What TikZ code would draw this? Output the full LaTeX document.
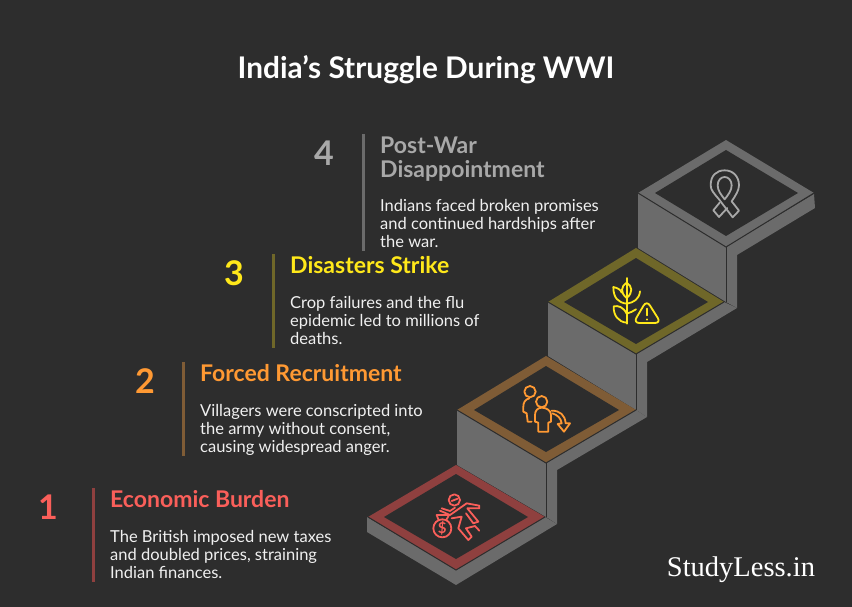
\documentclass[tikz,border=0pt]{standalone}
\usepackage{fontspec}
\setmainfont{Lato}
\newfontfamily\logofont{Liberation Serif}
\usetikzlibrary{positioning}
\definecolor{pagebg}{HTML}{2D2D2D}
\definecolor{stepgray}{HTML}{6B6B6B}
\definecolor{bodytext}{HTML}{F0F0F0}
\definecolor{redtext}{HTML}{FA5F5A}
\definecolor{redrim}{HTML}{8F403F}
\definecolor{orangetext}{HTML}{FF9933}
\definecolor{orangerim}{HTML}{7F5C36}
\definecolor{yellowtext}{HTML}{FFE81A}
\definecolor{yellowrim}{HTML}{6F6729}
\definecolor{graytext}{HTML}{A8A8A8}
\tikzset{
    numlabel/.style={inner sep=0pt, font=\fontsize{34}{34}\selectfont\bfseries},
    headlabel/.style={anchor=north west, inner sep=0pt, align=left, font=\fontsize{23}{24}\selectfont\bfseries},
    bodylabel/.style={anchor=north west, inner sep=0pt, align=left, text=bodytext, font=\fontsize{16.5}{18}\selectfont},
    iconat/.style={shift={#1}, x=0.3333pt, y=-0.3333pt, line width=1.8pt, line cap=round, line join=round}
}
\begin{document}
\begin{tikzpicture}[x=1pt, y=-1pt]
    \fill[pagebg] (0,0) rectangle (852,607);
    \useasboundingbox (0,0) rectangle (852,607);

    % title
    \node[text=white, inner sep=0pt, font=\fontsize{29.8}{32}\selectfont\bfseries] (maintitle) at (426,69.5) {India's Struggle During WWI};

    % stairs
    \fill[stepgray] (726,247) -- (814,194) -- (815,208) -- (737,255) -- (737,308) -- (726,302) -- cycle;
    \fill[stepgray] (636,354) -- (724,302) -- (737,308) -- (647,362) -- (647,417) -- (636,410) -- cycle;
    \fill[stepgray] (546,463) -- (636,410) -- (647,417) -- (557,470) -- (557,524) -- (546,517) -- cycle;
    \fill[stepgray] (367,517) -- (456,570) -- (545,517) -- (557,524) -- (456,585) -- (367,532) -- cycle;
    \fill[stepgray] (638,193) -- (726,247) -- (726,302) -- (638,248) -- cycle;
    \fill[stepgray] (548,302) -- (636,354) -- (636,410) -- (548,356) -- cycle;
    \fill[stepgray] (457,410) -- (546,463) -- (546,517) -- (457,465) -- cycle;
    \draw[pagebg, line width=1pt] (726,247) -- (726,302) (636,354) -- (636,410) (546,463) -- (546,517);

    \fill[stepgray] (638,193) -- (726,140) -- (814,193) -- (726,247) -- cycle;
    \fill[pagebg] (655,193) -- (726,150) -- (798,193) -- (726,236) -- cycle;
    \fill[yellowrim] (548,302) -- (636,248) -- (724,302) -- (636,354) -- cycle;
    \fill[pagebg] (564,302) -- (636,258) -- (708,302) -- (636,344) -- cycle;
    \fill[orangerim] (457,410) -- (546,356) -- (636,410) -- (546,463) -- cycle;
    \fill[pagebg] (474,410) -- (546,366) -- (619,410) -- (546,452) -- cycle;
    \fill[redrim] (368,517) -- (456,465) -- (545,517) -- (456,570) -- cycle;
    \fill[pagebg] (384,517) -- (456,474) -- (528,517) -- (456,559) -- cycle;
    \draw[pagebg, line width=1pt] (638,193) -- (726,247) -- (814,193);
    \draw[pagebg, line width=1pt] (548,302) -- (636,354) -- (724,302);
    \draw[pagebg, line width=1pt] (457,410) -- (546,463) -- (636,410);
    \draw[pagebg, line width=1pt] (368,517) -- (456,570) -- (545,517);

    % icons
    \begin{scope}[iconat={(425,485)}, draw=redtext]
        \draw (88,45) circle[radius=17];
        \draw (80,48) -- (98,41);
        \draw (45,77) -- (75,90) -- (125,55) -- (163,62) -- (163,70) -- (127,70) -- (160,110) -- (145,115) -- (123,85);
        \draw (50,70) -- (75,78) -- (90,68);
        \draw (80,100) -- (110,95) -- (100,130) -- (130,165) -- (140,155) -- (123,130) -- (150,123) -- (163,137);
        \draw (52,130) circle[radius=27];
        \draw (40,103) -- (35,90) -- (72,90) -- (65,103);
        \node[inner sep=0pt, text=redtext, font=\fontsize{15}{15}\selectfont\bfseries] (bagsign) at (52,130) {\$};
    \end{scope}
    \begin{scope}[iconat={(515,380)}, draw=orangetext]
        \draw (45,35) circle[radius=17];
        \draw (43,55) .. controls (30,58) and (25,68) .. (25,80) -- (25,95) -- (35,100) -- (38,125) -- (50,125);
        \draw (80,65) circle[radius=17];
        \draw (80,83) .. controls (68,83) and (60,92) .. (60,105) -- (60,125) -- (70,128) -- (70,155) -- (100,155) -- (100,128) -- (108,125) -- (108,105) .. controls (108,92) and (95,83) .. (80,83);
        \draw (110,92) .. controls (135,92) and (150,105) .. (152,130) -- (165,130) -- (147,155) -- (128,132) -- (140,130) .. controls (138,115) and (128,105) .. (112,100);
    \end{scope}
    \begin{scope}[iconat={(605,272)}, draw=yellowtext]
        \draw (65,18) -- (65,155);
        \draw (65,78) .. controls (45,62) and (48,42) .. (65,32) .. controls (82,42) and (85,62) .. (65,78);
        \draw (65,95) .. controls (40,92) and (25,78) .. (25,45) .. controls (40,48) and (48,55) .. (50,62);
        \draw (65,95) .. controls (85,92) and (103,82) .. (105,58);
        \draw (65,125) .. controls (55,105) and (40,100) .. (26,103) .. controls (25,130) and (40,150) .. (65,152);
        \draw (65,125) .. controls (75,122) and (85,118) .. (93,112);
        \draw[rounded corners=6] (125,85) -- (168,153) -- (85,153) -- cycle;
        \draw (125,110) -- (125,130);
        \draw (125,142) -- (125,143);
    \end{scope}
    \begin{scope}[iconat={(695,162)}, draw=graytext]
        \draw (47,70) .. controls (47,40) and (65,25) .. (89,25) .. controls (113,25) and (132,42) .. (132,70) .. controls (132,85) and (122,100) .. (110,118) -- (132,146) -- (113,166) -- (72,112) .. controls (58,95) and (47,85) .. (47,70) -- cycle;
        \draw (68,70) .. controls (68,55) and (78,45) .. (89,45) .. controls (100,45) and (110,55) .. (110,70) .. controls (110,85) and (100,98) .. (89,112) .. controls (78,98) and (68,85) .. (68,70) -- cycle;
        \draw (74,122) -- (55,145) -- (72,165) -- (97,138);
    \end{scope}

    % bars
    \fill[redrim] (91.5,488) rectangle (95,582);
    \fill[orangerim] (181.5,362) rectangle (185,456);
    \fill[yellowrim] (271.5,254) rectangle (275,348);
    \fill[stepgray] (361.5,134) rectangle (365,251);

    % step 1
    \node[numlabel, text=redtext] (numone) at (48,507) {1};
    \node[headlabel, text=redtext] (headone) at (110,490.5) {Economic Burden};
    \node[bodylabel] (bodyone) at (110,530) {The British imposed new taxes\\and doubled prices, straining\\Indian finances.};

    % step 2
    \node[numlabel, text=orangetext] (numtwo) at (145,381) {2};
    \node[headlabel, text=orangetext] (headtwo) at (200,364.5) {Forced Recruitment};
    \node[bodylabel] (bodytwo) at (200,404) {Villagers were conscripted into\\the army without consent,\\causing widespread anger.};

    % step 3
    \node[numlabel, text=yellowtext] (numthree) at (234,273) {3};
    \node[headlabel, text=yellowtext] (headthree) at (290,256.5) {Disasters Strike};
    \node[bodylabel] (bodythree) at (290,296) {Crop failures and the flu\\epidemic led to millions of\\deaths.};

    % step 4
    \node[numlabel, text=graytext] (numfour) at (324,153) {4};
    \node[headlabel, text=graytext] (headfour) at (380,136.5) {Post-War\\Disappointment};
    \node[bodylabel] (bodyfour) at (380,199) {Indians faced broken promises\\and continued hardships after\\the war.};

    \node[text=white, inner sep=0pt, font=\logofont\fontsize{28.5}{30}\selectfont] (logo) at (741,570) {StudyLess.in};
\end{tikzpicture}
\end{document}
